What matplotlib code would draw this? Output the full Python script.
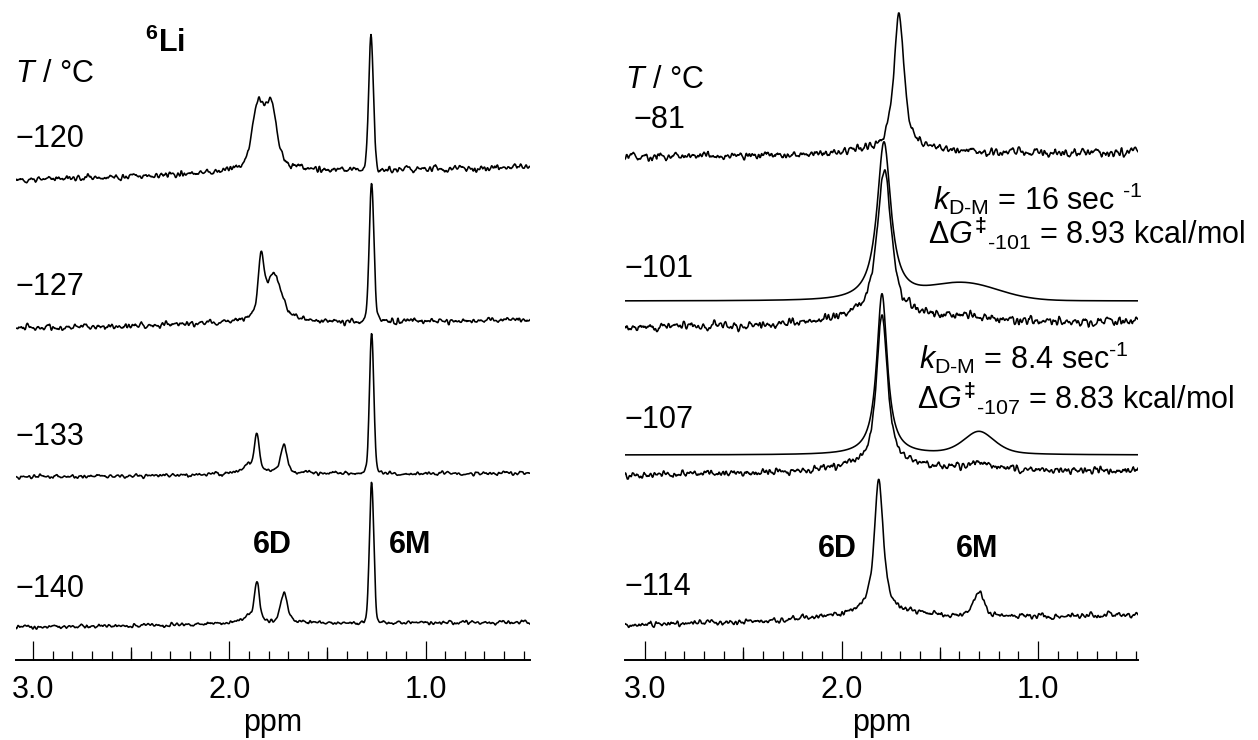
import numpy as np
import matplotlib
matplotlib.use("Agg")
import matplotlib.pyplot as plt
from matplotlib.ticker import FixedLocator, NullFormatter, FixedFormatter

plt.rcParams['font.family'] = ['Liberation Sans', 'DejaVu Sans']
plt.rcParams['mathtext.fontset'] = 'custom'
plt.rcParams['mathtext.rm'] = 'Liberation Sans'
plt.rcParams['mathtext.it'] = 'Liberation Sans:italic'
plt.rcParams['mathtext.bf'] = 'Liberation Sans:bold'

# ---------------- 6Li spectra (left stack) ----------------
left_temps = ["\u2212120", "\u2212127", "\u2212133", "\u2212140"]
# baseline level at the high-field (3.1 ppm) and low-field (0.47 ppm) ends
left_base_hi = [480, 332, 183, 33]
left_base_lo = [493, 340, 187, 38]
# peaks: (shift / ppm, height, FWHM / ppm, Lorentzian fraction)
left_peaks = [
    [(1.854, 60, 0.070, 0.3), (1.787, 59, 0.070, 0.3), (1.82, 7, 0.45, 0.6),
     (1.278, 135, 0.028, 0.1)],
    [(1.838, 56, 0.035, 0.3), (1.772, 44, 0.090, 0.3), (1.80, 6, 0.45, 0.6),
     (1.275, 137, 0.028, 0.1)],
    [(1.860, 38, 0.030, 0.3), (1.905, 7, 0.050, 0.3), (1.722, 27, 0.040, 0.3),
     (1.80, 3, 0.50, 0.6), (1.275, 141, 0.026, 0.1)],
    [(1.860, 40, 0.030, 0.3), (1.905, 7, 0.050, 0.3), (1.722, 28, 0.040, 0.3),
     (1.80, 3, 0.50, 0.6), (1.275, 142, 0.026, 0.1)],
]
left_noise = [1.4, 1.3, 0.9, 0.9]

# ---------------- right stack: experimental + simulated ----------------
right_temps = ["\u221281", "\u2212101", "\u2212107", "\u2212114"]
right_base_hi = [503, 332, 185, 35]
right_base_lo = [507, 338, 190, 45]
right_peaks = [
    [(1.707, 135, 0.060, 0.8), (1.70, 7, 0.50, 0.5)],
    [(1.782, 146, 0.085, 0.8), (1.78, 10, 0.60, 0.5), (1.33, 5, 0.30, 0.3)],
    [(1.794, 149, 0.065, 0.8), (1.79, 10, 0.50, 0.5), (1.30, 8, 0.15, 0.5)],
    [(1.810, 132, 0.055, 0.8), (1.80, 8, 0.60, 0.5), (1.300, 26, 0.060, 0.5)],
]
right_noise = [1.9, 2.0, 1.6, 1.3]

# simulated line shapes for -101 and -107 (noise free)
sim_base = [359, 205]
sim_peaks = [
    [(1.784, 158, 0.085, 1.0), (1.38, 17, 0.42, 0.0)],
    [(1.794, 161, 0.065, 1.0), (1.30, 23, 0.19, 0.5)],
]
sim_k = ["16 sec $^{\\text{-1}}$", "8.4 sec$^{\\text{-1}}$"]
sim_dg_temp = ["-101", "-107"]
sim_dg = ["8.93", "8.83"]

major_ticks = [3.0, 2.0, 1.0]
mid_ticks = [2.5, 1.5]
minor_ticks = [round(0.5 + 0.1 * i, 1) for i in range(26)]


def pseudo_voigt(x, c, h, w, eta):
    u = (x - c) / w
    lor = 1.0 / (1.0 + 4.0 * u ** 2)
    gau = np.exp(-4.0 * np.log(2.0) * u ** 2)
    return h * (eta * lor + (1.0 - eta) * gau)


def spectrum(x, peaks, base_hi, base_lo):
    y = base_hi + (base_lo - base_hi) * (x.max() - x) / (x.max() - x.min())
    for c, h, w, eta in peaks:
        y = y + pseudo_voigt(x, c, h, w, eta)
    return y


rng = np.random.default_rng(11)


def baseline_noise(n, amp):
    raw = rng.normal(0.0, 1.0, n + 6)
    k = np.array([0.15, 0.25, 0.3, 0.25, 0.15])
    sm = np.convolve(raw, k, mode="same")[3:3 + n]
    return amp * sm / sm.std()


W, H = 1258, 740
fig = plt.figure(figsize=(W / 100, H / 100), dpi=100)
fs = 22


def make_axes(x0, x1, ppm_hi, ppm_lo):
    ax = fig.add_axes([x0 / W, (H - 660) / H, (x1 - x0) / W, 660 / H])
    ax.set_xlim(ppm_hi, ppm_lo)
    ax.set_ylim(0, 660)
    for s in ("top", "left", "right"):
        ax.spines[s].set_visible(False)
    ax.spines["bottom"].set_linewidth(1.4)
    ax.set_yticks([])
    ax.xaxis.set_major_locator(FixedLocator(major_ticks))
    ax.xaxis.set_major_formatter(FixedFormatter([f"{t:.1f}" for t in major_ticks]))
    ax.xaxis.set_minor_locator(FixedLocator(minor_ticks))
    ax.xaxis.set_minor_formatter(NullFormatter())
    ax.tick_params(axis="x", which="major", direction="in", length=13.5,
                   width=0.9, labelsize=fs, pad=11)
    ax.tick_params(axis="x", which="minor", direction="in", length=6.5, width=0.9)
    sec = ax.secondary_xaxis("bottom")
    sec.spines["bottom"].set_visible(False)
    sec.set_xticks(mid_ticks)
    sec.set_xticklabels([])
    sec.tick_params(axis="x", direction="in", length=9.5, width=0.9)
    ax.set_xlabel("ppm", fontsize=fs, labelpad=2)
    ax.patch.set_visible(False)
    return ax


axL = make_axes(16, 530, 3.087, 0.468)
axR = make_axes(625, 1138, 3.103, 0.490)

lw = 1.15
xL = np.linspace(3.087, 0.468, 1100)
for peaks, bh, bl, amp in zip(left_peaks, left_base_hi, left_base_lo, left_noise):
    y = spectrum(xL, peaks, bh, bl) + baseline_noise(len(xL), amp)
    axL.plot(xL, y, color="black", lw=lw)

xR = np.linspace(3.103, 0.490, 1100)
for peaks, bh, bl, amp in zip(right_peaks, right_base_hi, right_base_lo, right_noise):
    y = spectrum(xR, peaks, bh, bl) + baseline_noise(len(xR), amp)
    axR.plot(xR, y, color="black", lw=lw)
for peaks, b in zip(sim_peaks, sim_base):
    axR.plot(xR, spectrum(xR, peaks, b, b), color="black", lw=lw)

txt = dict(fontsize=fs, color="black", ha="left", va="baseline")
bold = dict(fontsize=fs, fontweight="bold", ha="center", va="baseline")

# left labels (y in intensity units above the axis line)
axL.text(3.092, 660 - 82, "$\\mathit{T}$ / \u00b0C", **txt)
axL.text(2.33, 660 - 52, "$\\mathbf{^{6}Li}$", fontsize=fs, ha="center", va="baseline")
for lab, yb in zip(left_temps, [147, 295, 445, 597]):
    axL.text(3.092, 660 - yb, lab, **txt)
axL.text(1.783, 660 - 553, "6D", **bold)
axL.text(1.079, 660 - 553, "6M", **bold)

# right labels
axR.text(3.103, 660 - 88, "$\\mathit{T}$ / \u00b0C", **txt)
for lab, yb, xp in zip(right_temps, [128, 277, 428, 595], [3.062, 3.103, 3.103, 3.103]):
    axR.text(xp, 660 - yb, lab, **txt)
axR.text(2.023, 660 - 557, "6D", **bold)
axR.text(1.31, 660 - 557, "6M", **bold)

for kx, ky, gx, gy, k, t, dg in zip([1.534, 1.605], [450, 291], [1.56, 1.615], [415, 250],
                                     sim_k, sim_dg_temp, sim_dg):
    axR.text(kx, ky, "$\\mathit{k}_{\\text{D-M}}$ = " + k, **txt)
    axR.text(gx, gy, "$\\Delta\\mathit{G}^{\\mathbf{\u2021}}{}_{\\text{" + t + "}}$ = "
             + dg + " kcal/mol", **txt)

fig.savefig("out.png", dpi=100)
